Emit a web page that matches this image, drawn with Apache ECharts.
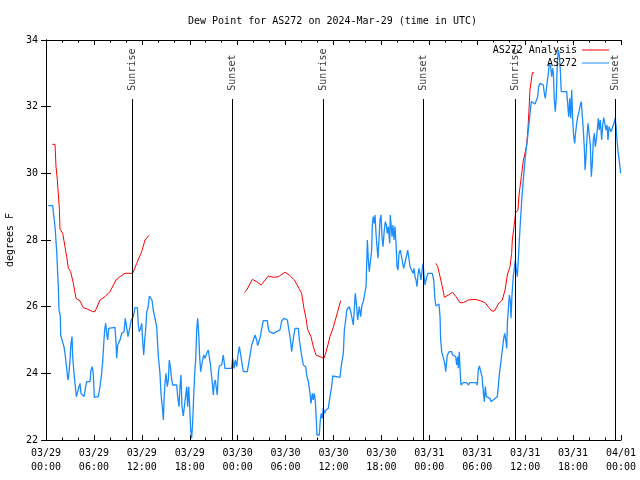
<!DOCTYPE html>
<html><head><meta charset="utf-8">
<script src="https://cdn.jsdelivr.net/npm/echarts@6/dist/echarts.min.js"></script>
<style>html,body{margin:0;padding:0;background:#fff}#c{width:640px;height:480px}</style>
</head><body><div id="c"></div><script>
const tickLabels = ['03/29\n00:00','03/29\n06:00','03/29\n12:00','03/29\n18:00','03/30\n00:00','03/30\n06:00','03/30\n12:00','03/30\n18:00','03/31\n00:00','03/31\n06:00','03/31\n12:00','03/31\n18:00','04/01\n00:00'];
// hours since 03/29 00:00 UTC; '-' breaks the line
const analysisHours = [0.79,1.13,1.25,1.42,1.54,1.67,1.75,2.09,2.38,2.59,2.8,3.09,3.42,3.76,4.26,4.67,5.17,5.84,6.13,6.76,7.39,8.01,8.77,9.27,9.89,10.85,11.36,11.98,12.4,12.9,
  18,
  24.83,25.13,25.84,26.38,26.92,27.84,28.47,29.1,29.93,30.47,31.1,31.68,32.01,32.3,32.56,32.76,33.18,33.47,33.81,34.3,34.81,35.14,35.56,35.98,36.4,36.9,
  42,
  48.84,49.05,49.34,49.63,49.88,50.38,50.92,51.34,51.84,52.25,52.88,53.72,54.35,54.97,55.39,55.81,56.14,56.64,57.14,57.48,57.77,58.1,58.31,58.39,58.6,58.81,59.1,59.23,59.52,59.77,59.94,60.19,60.35,60.48,60.6,60.9,61.1];
const analysisValues = [30.87,30.87,30.22,29.8,29.38,28.95,28.33,28.2,27.8,27.5,27.15,27.05,26.7,26.25,26.17,25.97,25.93,25.85,25.85,26.2,26.3,26.45,26.8,26.9,27.0,27.0,27.3,27.65,28.0,28.14,
  '-',
  26.43,26.5,26.82,26.75,26.65,26.92,26.88,26.9,27.03,26.95,26.8,26.55,26.4,25.95,25.65,25.32,25.1,24.8,24.55,24.5,24.45,24.7,25.1,25.38,25.75,26.18,
  '-',
  27.3,27.2,26.9,26.6,26.28,26.35,26.43,26.3,26.12,26.12,26.2,26.22,26.18,26.12,26.0,25.87,25.87,26.08,26.2,26.5,26.95,27.2,27.6,28.0,28.4,28.82,28.9,29.35,29.9,30.4,30.55,30.85,31.35,31.9,32.5,33.02,33.02];
const stationHours = [0.29,0.84,0.91,1.04,1.16,1.34,1.54,1.63,1.8,1.84,2.09,2.25,2.38,2.59,2.75,2.88,3.0,3.13,3.26,3.34,3.51,3.63,3.8,4.05,4.26,4.38,4.55,4.76,4.97,5.09,5.51,5.63,5.8,5.93,6.05,6.55,6.76,6.97,7.1,7.22,7.35,7.47,7.6,7.72,7.85,8.01,8.64,8.77,8.85,8.98,9.14,9.27,9.48,9.77,9.93,10.1,10.27,10.43,10.52,10.68,10.93,11.14,11.44,11.56,11.68,11.86,11.98,12.1,12.23,12.36,12.48,12.61,12.77,12.94,13.1,13.27,13.43,13.65,13.86,14.07,14.27,14.4,14.56,14.7,14.78,14.9,15.02,15.19,15.32,15.44,15.57,15.69,15.86,16.36,16.49,16.65,16.78,16.9,17.03,17.19,17.44,17.62,17.74,17.87,17.99,18.12,18.24,18.37,18.49,18.62,18.74,18.87,18.99,19.12,19.24,19.37,19.5,19.62,19.75,19.91,20.12,20.32,20.45,20.57,20.7,20.83,20.95,21.07,21.2,21.33,21.45,21.58,21.7,21.79,22.0,22.2,22.41,23.25,23.37,23.54,23.7,23.88,24.04,24.21,24.38,24.54,24.71,25.21,25.38,25.55,25.76,25.96,26.17,26.38,26.5,26.71,26.84,27.01,27.21,27.71,27.84,27.96,28.47,28.88,29.09,29.3,29.51,29.8,30.22,30.43,30.55,30.68,30.76,30.89,31.01,31.18,31.6,31.72,32.01,32.22,32.51,32.64,32.85,33.06,33.18,33.35,33.47,33.6,33.73,33.85,33.93,34.22,34.35,34.47,34.6,34.72,34.89,35.06,35.35,35.56,35.77,35.9,36.1,36.81,37.02,37.23,37.36,37.53,37.66,37.85,37.98,38.15,38.32,38.48,38.6,38.73,38.9,39.03,39.23,39.4,39.57,39.73,39.94,40.07,40.24,40.36,40.48,40.7,40.78,40.86,40.98,41.11,41.2,41.32,41.45,41.57,41.7,41.82,41.95,42.07,42.2,42.36,42.49,42.61,42.74,42.86,43.04,43.11,43.2,43.33,43.45,43.58,43.7,43.83,43.95,44.08,44.2,44.37,44.54,44.67,44.79,45.04,45.17,45.29,45.45,45.58,45.79,45.96,46.08,46.21,46.33,46.46,46.58,46.71,46.83,46.96,47.08,47.21,47.33,47.46,47.58,47.8,48.37,48.55,48.71,48.84,49.05,49.21,49.34,49.42,49.55,49.8,49.93,50.05,50.13,50.25,50.5,50.8,50.92,51.13,51.3,51.43,51.55,51.63,51.75,51.88,51.97,52.25,52.68,52.88,53.09,53.51,53.84,54.01,54.13,54.26,54.47,54.6,54.76,54.88,55.01,55.13,55.26,55.6,55.72,55.94,56.1,56.31,56.51,56.64,56.76,56.94,57.06,57.19,57.31,57.44,57.56,57.69,57.77,57.89,58.02,58.14,58.23,58.35,58.51,58.64,58.77,58.89,59.02,59.14,59.27,59.44,59.6,59.77,59.94,60.11,60.27,60.44,60.61,60.77,61.02,61.23,61.44,61.57,61.69,61.86,62.07,62.27,62.4,62.52,62.65,62.77,62.9,63.02,63.2,63.32,63.45,63.53,63.65,63.77,63.9,64.02,64.15,64.27,64.4,64.52,65.2,65.33,65.45,65.58,65.7,65.83,65.95,66.08,66.2,66.33,66.45,66.58,66.74,66.9,67.03,67.16,67.28,67.41,67.5,67.62,67.75,67.87,68.03,68.16,68.28,68.41,68.53,68.66,68.78,68.91,69.03,69.16,69.28,69.41,69.58,69.71,69.83,70.0,70.12,70.25,70.37,70.5,70.62,70.75,70.87,71.0,71.12,71.25,71.37,71.5,71.63,71.75,71.87,71.95];
const stationValues = [29.03,29.03,28.85,28.6,28.3,27.65,26.6,25.9,25.7,25.15,25.1,24.8,24.6,24.15,23.8,24.0,24.4,24.9,25.1,24.5,24.0,23.7,23.3,23.3,23.7,23.4,23.45,23.3,23.6,23.75,23.75,24.1,24.2,23.95,23.28,23.3,23.6,24.0,24.35,24.85,25.3,25.5,25.2,25.0,25.35,25.38,25.38,24.9,24.45,24.85,24.8,25.0,25.2,25.25,25.65,25.6,25.1,25.05,25.4,25.6,25.7,25.97,25.97,25.45,25.25,25.35,25.5,25.0,24.55,25.0,25.3,25.85,25.95,26.32,26.3,26.2,25.9,25.9,25.4,24.5,24.0,23.4,23.0,22.6,23.2,23.7,24.0,23.6,23.8,24.4,24.2,23.9,23.65,23.65,23.3,23.0,23.6,23.95,23.0,22.72,22.72,23.6,23.0,23.6,23.0,22.3,22.05,22.55,23.3,24.0,24.4,25.3,25.65,25.2,24.5,24.05,24.25,24.4,24.55,24.45,24.6,24.7,24.72,24.3,24.0,23.7,23.35,23.7,23.8,23.55,23.35,24.0,24.22,24.2,24.25,24.55,24.15,24.15,24.45,24.15,24.4,24.2,24.55,24.8,24.55,24.3,24.05,24.05,24.3,24.55,24.85,24.9,25.15,25.0,24.83,24.83,25.1,25.35,25.58,25.58,25.35,25.25,25.2,25.25,25.2,25.3,25.57,25.65,25.6,25.6,25.1,24.85,24.65,24.9,25.1,25.35,25.35,25.0,24.55,24.25,24.2,23.95,23.75,23.4,23.1,23.4,23.2,23.4,23.15,22.6,22.15,22.15,22.6,22.8,22.65,22.95,22.8,22.9,22.95,23.3,23.6,23.92,23.88,23.88,24.3,24.6,25.3,25.6,25.9,25.85,26.0,25.85,25.65,25.45,25.9,26.4,26.0,25.6,26.0,25.7,26.05,26.15,26.2,26.6,28.0,27.4,27.05,27.05,27.7,28.45,28.7,28.5,28.75,28.2,27.8,27.45,28.0,28.6,28.75,28.1,27.8,28.3,28.55,28.45,28.2,28.4,27.9,28.75,28.7,28.1,28.45,28.0,28.4,27.9,27.2,27.1,27.6,27.7,27.7,27.3,27.15,27.15,27.55,27.7,27.45,27.2,27.15,27.0,27.15,26.9,26.8,26.6,26.95,27.15,27.0,26.8,27.05,27.3,26.95,26.65,26.8,27.0,27.0,26.8,26.2,26.02,26.05,26.08,25.7,25.0,24.65,24.65,24.3,24.05,24.25,24.55,24.65,24.65,24.55,24.6,24.5,24.25,24.5,24.15,24.65,23.95,23.65,23.72,23.72,23.65,23.72,23.72,23.72,23.65,24.1,24.22,24.22,23.9,23.45,23.15,23.6,23.3,23.25,23.25,23.15,23.15,23.22,23.25,23.3,23.6,23.95,24.3,24.55,24.8,25.05,25.2,25.0,24.75,25.5,25.9,26.35,26.2,25.65,26.35,26.9,27.15,27.4,27.1,26.9,27.4,28.0,28.7,29.3,29.8,30.3,30.7,31.0,31.4,31.8,32.15,32.15,32.08,32.08,32.3,32.6,32.7,32.65,32.65,32.4,32.25,32.5,32.75,33.0,33.3,33.2,32.9,33.15,33.0,32.2,31.85,32.3,33.3,33.7,33.55,33.1,32.45,32.45,32.4,31.7,32.25,31.65,32.5,31.6,31.1,30.9,31.25,31.5,31.7,31.85,32.05,32.15,31.7,31.3,30.75,30.1,30.5,31.1,31.5,31.5,30.85,29.9,30.3,31.0,31.2,30.8,31.0,31.3,31.65,31.3,31.6,31.0,31.45,31.67,31.67,31.3,31.45,31.0,31.4,31.35,31.25,31.2,31.25,31.5,31.65,31.45,31.0,30.65,30.45,30.2,30.0];
const sunHours = [10.81, 23.33, 34.73, 47.25, 58.77, 71.34];
const sunNames = ['Sunrise','Sunset','Sunrise','Sunset','Sunrise','Sunset'];

const FONT = 'DejaVu Sans Mono';
const analysisData = analysisHours.map((h, i) => [h, analysisValues[i]]);
const stationData = stationHours.map((h, i) => [h, stationValues[i]]);
const sunLineTop = 32.23, sunLabelBase = 32.45, yMin = 22;

const axisCommon = {
  axisLine: {show: true, lineStyle: {color: '#000', width: 1}},
  splitLine: {show: false}
};
const chart = echarts.init(document.getElementById('c'));
chart.setOption({
  animation: false,
  backgroundColor: '#fff',
  title: {text: 'Dew Point for AS272 on 2024-Mar-29 (time in UTC)', left: 188, top: 16, padding: 0,
    textStyle: {fontFamily: FONT, fontSize: 10, fontWeight: 'normal', color: '#000'}},
  grid: {left: 46, right: 19, top: 40, bottom: 40, containLabel: false, outerBoundsMode: 'none'},
  legend: [
    {data: ['AS272 Analysis'], right: 26, top: 40, align: 'right', icon: 'rect', itemWidth: 27, itemHeight: 1,
      selectedMode: false, textStyle: {fontFamily: FONT, fontSize: 10, color: '#000'}},
    {data: ['AS272'], right: 26, top: 53, align: 'right', icon: 'rect', itemWidth: 27, itemHeight: 1,
      selectedMode: false, textStyle: {fontFamily: FONT, fontSize: 10, color: '#000'}}
  ],
  xAxis: [
    Object.assign({type: 'value', min: 0, max: 72, interval: 6, position: 'bottom',
      axisTick: {inside: true, length: 5, lineStyle: {color: '#000'}},
      minorTick: {show: true, splitNumber: 3, length: 2.5, lineStyle: {color: '#000'}},
      axisLabel: {fontFamily: FONT, fontSize: 10, color: '#000', lineHeight: 14, margin: 6,
        formatter: v => tickLabels[Math.round(v / 6)]}}, axisCommon),
    Object.assign({type: 'value', min: 0, max: 72, interval: 6, position: 'top',
      axisTick: {inside: true, length: 5, lineStyle: {color: '#000'}},
      minorTick: {show: true, splitNumber: 3, length: 2.5, lineStyle: {color: '#000'}},
      axisLabel: {show: false}}, axisCommon)
  ],
  yAxis: [
    Object.assign({type: 'value', min: 22, max: 34, interval: 2, position: 'left',
      name: 'degrees F', nameLocation: 'middle', nameRotate: 90, nameGap: 30,
      nameTextStyle: {fontFamily: FONT, fontSize: 10, color: '#000'},
      axisTick: {inside: true, length: 5, lineStyle: {color: '#000'}},
      axisLabel: {fontFamily: FONT, fontSize: 10, color: '#000', margin: 8}}, axisCommon),
    Object.assign({type: 'value', min: 22, max: 34, interval: 2, position: 'right',
      axisTick: {inside: true, length: 5, lineStyle: {color: '#000'}},
      axisLabel: {show: false}}, axisCommon)
  ],
  series: [
    {name: 'AS272 Analysis', type: 'line', data: analysisData, showSymbol: false, symbol: 'none',
      connectNulls: false, color: '#ff0000', lineStyle: {color: '#ff0000', width: 1}, z: 2},
    {name: 'AS272', type: 'line', data: stationData, showSymbol: false, symbol: 'none',
      color: '#1a8cff', lineStyle: {color: '#1a8cff', width: 1.3}, z: 3},
    {name: 'sun', type: 'scatter', symbolSize: 0, z: 5,
      data: sunHours.map((h, i) => ({value: [h, sunLabelBase], name: sunNames[i]})),
      label: {show: true, position: 'inside', formatter: p => p.name, rotate: 90, align: 'left', verticalAlign: 'middle',
        offset: [1, 0], fontFamily: FONT, fontSize: 10, color: '#000'},
      markLine: {silent: true, symbol: ['none', 'none'], label: {show: false},
        lineStyle: {color: '#000', width: 1, type: 'solid'},
        data: sunHours.map(h => [{coord: [h, yMin]}, {coord: [h, sunLineTop]}])}}
  ]
});
</script></body></html>
